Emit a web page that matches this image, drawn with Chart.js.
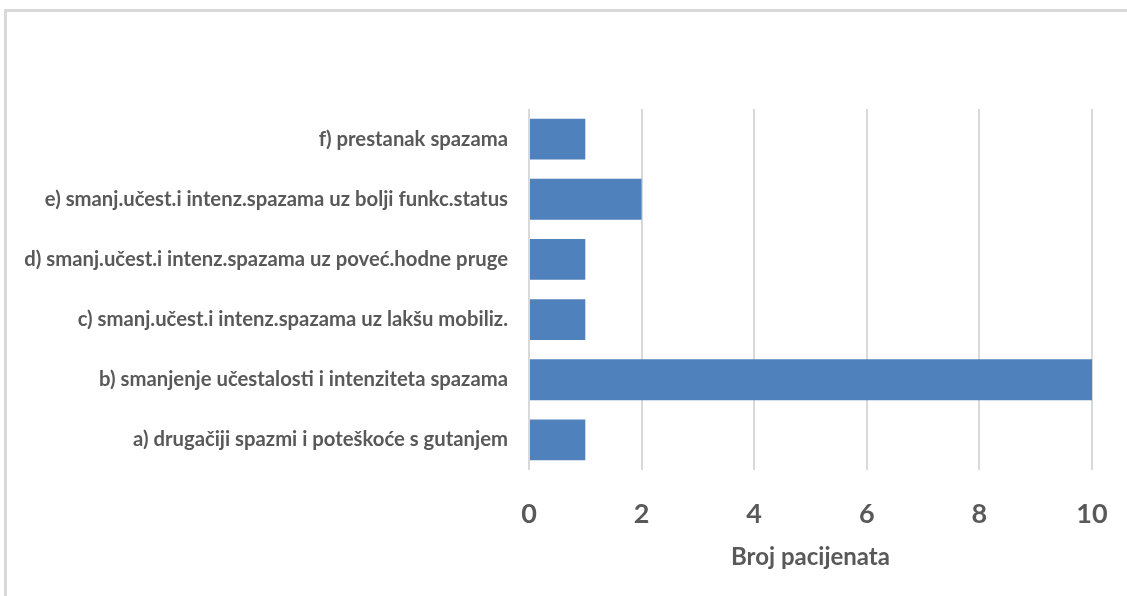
<!DOCTYPE html>
<html><head><meta charset="utf-8">
<script src="https://cdn.jsdelivr.net/npm/chart.js@4.4.0/dist/chart.umd.min.js"></script>
<style>
html,body{margin:0;padding:0;background:#fff;overflow:hidden}
#wrap{position:relative;width:1127px;height:596px}
#frame{position:absolute;left:4px;top:9px;width:1140px;height:600px;border:3px solid #d9d9d9;box-sizing:border-box}
canvas{position:absolute;left:0;top:0}
</style></head>
<body><div id="wrap"><div id="frame"></div><canvas id="c" width="1127" height="596"></canvas></div>
<script>
const categories = [
  "f) prestanak spazama",
  "e) smanj.učest.i intenz.spazama uz bolji funkc.status",
  "d) smanj.učest.i intenz.spazama uz poveć.hodne pruge",
  "c) smanj.učest.i intenz.spazama uz lakšu mobiliz.",
  "b) smanjenje učestalosti i intenziteta spazama",
  "a) drugačiji spazmi i poteškoće s gutanjem"
];
const patients = [1, 2, 1, 1, 10, 1];
const xTicks = [0, 2, 4, 6, 8, 10];
const xTitle = "Broj pacijenata";

const FONT = "Lato, 'Liberation Sans', sans-serif";
const CHART_LEFT = 529, CHART_RIGHT = 1092, CHART_TOP = 109, CHART_BOTTOM = 470;

new Chart(document.getElementById('c'), {
  type: 'bar',
  data: {
    labels: categories,
    datasets: [{
      data: patients,
      backgroundColor: '#4f81bd',
      borderWidth: 0,
      barPercentage: 0.68,
      categoryPercentage: 1.0
    }]
  },
  options: {
    indexAxis: 'y',
    responsive: false,
    animation: false,
    layout: { padding: { top: CHART_TOP, right: 1127 - CHART_RIGHT, left: 10, bottom: 0 } },
    plugins: { legend: { display: false }, tooltip: { enabled: false } },
    scales: {
      x: {
        min: 0, max: 10,
        afterBuildTicks: s => { s.ticks = xTicks.map(v => ({ value: v })); },
        afterFit: s => { s.height = 596 - CHART_BOTTOM; s.paddingRight = 0; s.paddingLeft = 0; },
        grid: { color: '#d9d9d9', lineWidth: 2, drawTicks: false },
        border: { display: false },
        ticks: { color: '#595959', font: { family: FONT, size: 27, weight: 'bold' }, padding: 28 },
        title: { display: true, text: xTitle, color: '#595959', font: { family: FONT, size: 24, weight: 'bold' }, padding: { top: 4, bottom: 24 } }
      },
      y: {
        afterFit: s => { s.width = CHART_LEFT - 10; s.paddingTop = 0; s.paddingBottom = 0; },
        grid: { display: false, drawTicks: false },
        border: { display: false },
        ticks: { color: '#595959', font: { family: FONT, size: 20.3, weight: 'bold' }, padding: 21 }
      }
    }
  }
});
</script></body></html>
